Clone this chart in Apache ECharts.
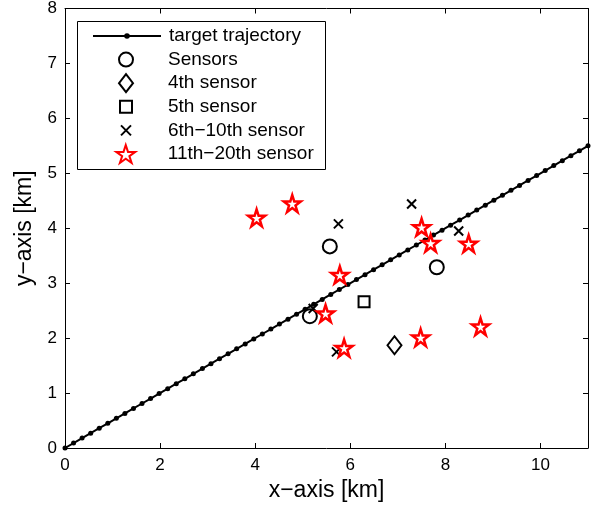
<!DOCTYPE html>
<html><head><meta charset="utf-8">
<script src="https://cdn.jsdelivr.net/npm/echarts@6/dist/echarts.min.js"></script>
<style>html,body{margin:0;padding:0;background:#fff}#c{width:598px;height:510px}</style>
</head><body><div id="c"></div>
<script>
// trajectory samples (dots ~0.18 km apart in x, y = x/2)
const trajX = [0,0.18,0.36,0.54,0.72,0.90,1.08,1.26,1.44,1.62,1.80,1.98,2.16,2.34,2.52,2.70,2.89,3.07,3.25,3.43,3.61,3.79,3.97,4.15,4.33,4.51,4.69,4.87,5.05,5.23,5.41,5.59,5.77,5.95,6.13,6.31,6.49,6.67,6.85,7.03,7.21,7.39,7.57,7.75,7.93,8.11,8.30,8.48,8.66,8.84,9.02,9.20,9.38,9.56,9.74,9.92,10.10,10.28,10.46,10.64,10.82,11.00];
const trajY = [0,0.09,0.18,0.27,0.36,0.45,0.54,0.63,0.72,0.81,0.90,0.99,1.08,1.17,1.26,1.35,1.445,1.535,1.625,1.715,1.805,1.895,1.985,2.075,2.165,2.255,2.345,2.435,2.525,2.615,2.705,2.795,2.885,2.975,3.065,3.155,3.245,3.335,3.425,3.515,3.605,3.695,3.785,3.875,3.965,4.055,4.15,4.24,4.33,4.42,4.51,4.60,4.69,4.78,4.87,4.96,5.05,5.14,5.23,5.32,5.41,5.50];
const sensorX = [5.57, 7.82, 5.15];
const sensorY = [3.67, 3.29, 2.40];
const s4X = [6.93], s4Y = [1.87];
const s5X = [6.29], s5Y = [2.66];
const s6X = [5.75, 7.29, 8.28, 5.71, 5.22];
const s6Y = [4.08, 4.44, 3.95, 1.75, 2.54];
const s11X = [4.03, 4.78, 7.50, 7.69, 8.49, 5.78, 5.48, 5.87, 7.48, 8.74];
const s11Y = [4.19, 4.45, 4.02, 3.73, 3.72, 3.15, 2.45, 1.82, 2.01, 2.21];
const names = ['target trajectory', 'Sensors', '4th sensor', '5th sensor', '6th\u221210th sensor', '11th\u221220th sensor'];
const xTitle = 'x\u2212axis [km]', yTitle = 'y\u2212axis [km]';

const zip = (a, b) => a.map((v, i) => [v, b[i]]);
const STAR = 'path://M100,0 L122.5,69.1 L195.1,69.1 L136.3,111.8 L158.8,180.9 L100,138.2 L41.2,180.9 L63.7,111.8 L4.9,69.1 L77.5,69.1 Z';
const CROSS = 'path://M0,0L10,10M0,10L10,0';
const DIAMOND = 'path://M7,0L14,9L7,18L0,9Z';
const SQUARE = 'path://M0,0L10,0L10,10L0,10Z';
const font = 'Liberation Sans, Arial, sans-serif';

const axisCommon = {
  axisLine: {show: true, onZero: false, lineStyle: {color: '#000', width: 1}},
  axisTick: {show: true, inside: true, length: 5, lineStyle: {color: '#000'}},
  splitLine: {show: false},
  axisLabel: {color: '#000', fontSize: 17, fontFamily: font}
};

// legend layout: one row per legend component
const rowCenters = [36, 59.6, 83.2, 106.8, 130.4, 154];
const rowIconH = [7, 14, 18, 12, 10, 18];
// drawn icon width incl. stroke (legend box aligns to the drawn icon's bounds)
const rowIconW = [68, 16, 16, 14, 12, 21.4];
const legends = names.map((n, i) => {
  const h = Math.max(rowIconH[i], 20);
  return {
    orient: 'vertical', left: 92 + (68 - rowIconW[i]) / 2, top: rowCenters[i] - h / 2, padding: 0,
    itemWidth: 68, itemHeight: rowIconH[i], itemGap: 0,
    symbolKeepAspect: true, z: 10,
    textStyle: {color: '#000', fontSize: 19, lineHeight: 20, fontFamily: font, padding: [0, 0, 0, 3]},
    data: [n]
  };
});

const chart = echarts.init(document.getElementById('c'));
chart.setOption({
  animation: false,
  backgroundColor: '#fff',
  grid: {left: 65, right: 10, top: 8, bottom: 62, containLabel: false},
  graphic: [{
    type: 'rect', z: 9,
    shape: {x: 77.5, y: 21.5, width: 248, height: 148},
    style: {fill: '#fff', stroke: '#000', lineWidth: 1}
  }],
  xAxis: [
    Object.assign({}, axisCommon, {type: 'value', min: 0, max: 11, interval: 2, position: 'bottom',
      name: xTitle, nameLocation: 'middle', nameGap: 28,
      nameTextStyle: {color: '#000', fontSize: 23, fontFamily: font},
      axisLabel: Object.assign({}, axisCommon.axisLabel, {margin: 9, showMaxLabel: false})}),
    Object.assign({}, axisCommon, {type: 'value', min: 0, max: 11, interval: 2, position: 'top',
      axisLabel: {show: false}})
  ],
  yAxis: [
    Object.assign({}, axisCommon, {type: 'value', min: 0, max: 8, interval: 1, position: 'left',
      name: yTitle, nameLocation: 'middle', nameGap: 24,
      nameTextStyle: {color: '#000', fontSize: 23, fontFamily: font},
      axisLabel: Object.assign({}, axisCommon.axisLabel, {margin: 8})}),
    Object.assign({}, axisCommon, {type: 'value', min: 0, max: 8, interval: 1, position: 'right',
      axisLabel: {show: false}})
  ],
  legend: legends,
  series: [
    {name: names[0], type: 'line', data: zip(trajX, trajY), symbol: 'circle', symbolSize: 5,
      showAllSymbol: true,
      lineStyle: {color: '#000', width: 2}, itemStyle: {color: '#000', opacity: 1}, z: 2},
    {name: names[1], type: 'scatter', data: zip(sensorX, sensorY), symbol: 'circle', symbolSize: 14,
      itemStyle: {color: '#fff', borderColor: '#000', borderWidth: 2, opacity: 1}, z: 3},
    {name: names[2], type: 'scatter', data: zip(s4X, s4Y), symbol: DIAMOND, symbolSize: [14, 18],
      itemStyle: {color: '#fff', borderColor: '#000', borderWidth: 2, opacity: 1}, z: 3},
    {name: names[3], type: 'scatter', data: zip(s5X, s5Y), symbol: SQUARE, symbolSize: 11,
      itemStyle: {color: '#fff', borderColor: '#000', borderWidth: 2, opacity: 1}, z: 3},
    {name: names[4], type: 'scatter', data: zip(s6X, s6Y), symbol: CROSS, symbolSize: 9,
      itemStyle: {color: 'rgba(0,0,0,0)', borderColor: '#000', borderWidth: 2, opacity: 1}, z: 3},
    {name: names[5], type: 'scatter', data: zip(s11X, s11Y), symbol: STAR, symbolSize: 17,
      itemStyle: {color: '#fff', borderColor: '#ff0000', borderWidth: 2.5, opacity: 1}, z: 4}
  ]
});
</script></body></html>
